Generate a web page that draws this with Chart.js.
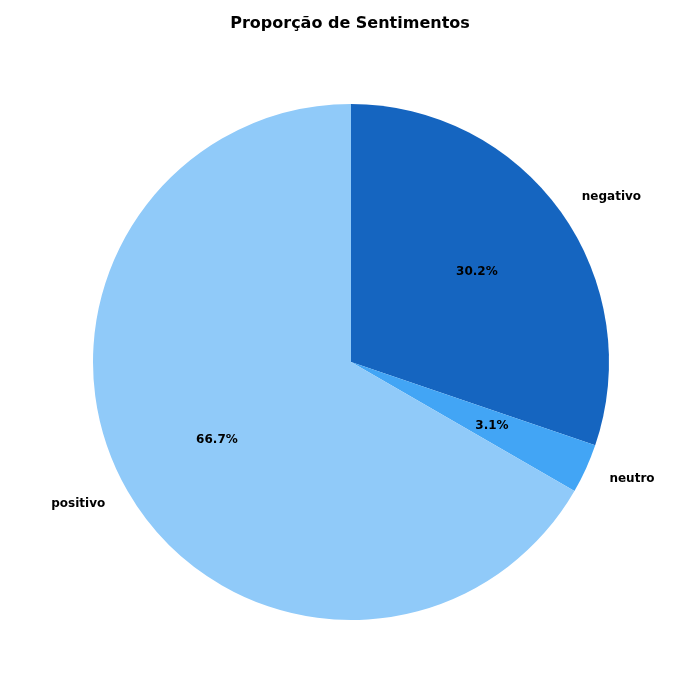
<!DOCTYPE html>
<html><head><meta charset="utf-8">
<script src="https://cdn.jsdelivr.net/npm/chart.js@4"></script>
<style>body{margin:0;background:#fff}</style>
</head><body>
<canvas id="c" width="700" height="700"></canvas>
<script>
const labels = ["negativo", "neutro", "positivo"];
const values = [30.2, 3.1, 66.6];
const colors = ["#1565c0", "#42a5f5", "#90caf9"];
const titleText = "Proporção de Sentimentos";

const textPlugin = {
  id: "txt",
  afterDraw(chart) {
    const ctx = chart.ctx;
    ctx.save();
    ctx.fillStyle = "#000";
    ctx.textAlign = "center";
    ctx.textBaseline = "middle";
    ctx.font = "bold 16px 'DejaVu Sans'";
    ctx.fillText(titleText, 350, 24);
    const total = values.reduce((a, b) => a + b, 0);
    ctx.font = "bold 12px 'DejaVu Sans'";
    chart.getDatasetMeta(0).data.forEach((arc, i) => {
      const mid = (arc.startAngle + arc.endAngle) / 2;
      const r = arc.outerRadius;
      ctx.fillText((values[i] / total * 100).toFixed(1) + "%",
        arc.x + Math.cos(mid) * r * 0.6, arc.y + Math.sin(mid) * r * 0.6);
      const lx = arc.x + Math.cos(mid) * r * 1.1, ly = arc.y + Math.sin(mid) * r * 1.1;
      ctx.textAlign = Math.cos(mid) >= 0 ? "left" : "right";
      ctx.fillText(labels[i], lx, ly);
      ctx.textAlign = "center";
    });
    ctx.restore();
  }
};

new Chart(document.getElementById("c"), {
  type: "pie",
  data: { labels, datasets: [{ data: values, backgroundColor: colors, borderWidth: 0 }] },
  options: {
    responsive: false, animation: false,
    layout: { padding: { top: 104, bottom: 80, left: 93, right: 91 } },
    plugins: { legend: { display: false }, tooltip: { enabled: false }, title: { display: false } }
  },
  plugins: [textPlugin]
});
</script>
</body></html>
